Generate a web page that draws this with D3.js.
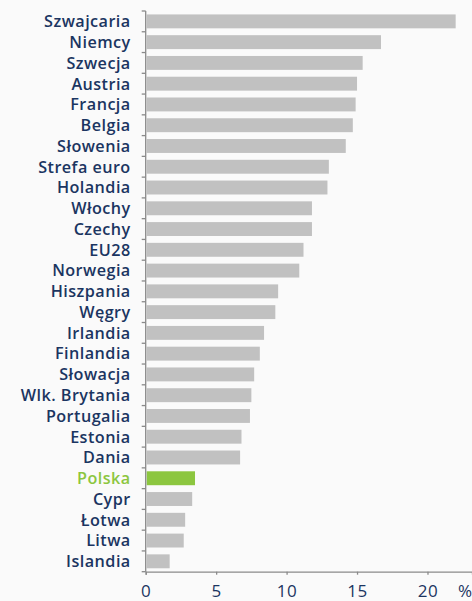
<!DOCTYPE html>
<html>
<head>
<meta charset="utf-8">
<script src="https://cdn.jsdelivr.net/npm/d3@7"></script>
<style>
  html, body { margin: 0; padding: 0; background: #fafafa; }
  svg { display: block; }
</style>
</head>
<body>
<svg id="chart" width="472" height="601"></svg>
<script>
// Countries, top to bottom
const countries = [
  "Szwajcaria", "Niemcy", "Szwecja", "Austria", "Francja", "Belgia", "Słowenia",
  "Strefa euro", "Holandia", "Włochy", "Czechy", "EU28", "Norwegia", "Hiszpania",
  "Węgry", "Irlandia", "Finlandia", "Słowacja", "Wlk. Brytania", "Portugalia",
  "Estonia", "Dania", "Polska", "Cypr", "Łotwa", "Litwa", "Islandia"
];
// Values in %
const values = [
  22.0, 16.7, 15.4, 15.0, 14.9, 14.7, 14.2,
  13.0, 12.9, 11.8, 11.8, 11.2, 10.9, 9.4,
  9.2, 8.4, 8.1, 7.7, 7.5, 7.4,
  6.8, 6.7, 3.5, 3.3, 2.8, 2.7, 1.7
];
const xTicks = [0, 5, 10, 15, 20];
const highlight = "Polska";

const data = countries.map((c, i) => ({ country: c, value: values[i] }));

const svg = d3.select("#chart");
const plotLeft = 145.7, plotRight = 472, plotTop = 11, plotBottom = 571.7;

const x = d3.scaleLinear().domain([0, 23.16]).range([plotLeft, plotRight]);
const y = d3.scaleBand().domain(countries).range([plotTop, plotBottom]).paddingInner(0.33).paddingOuter(0.165);

const navy = "#1b3561";
const green = "#8cc63f";
const axisColor = "#8a8a8a";

// Bars
svg.append("g").selectAll("rect").data(data).join("rect")
  .attr("x", x(0) + 1)
  .attr("y", d => y(d.country))
  .attr("width", d => x(d.value) - x(0) - 1)
  .attr("height", y.bandwidth())
  .attr("fill", d => d.country === highlight ? green : "#c1c1c1");

// Y axis: line and ticks between categories
const yAxis = svg.append("g");
yAxis.append("line")
  .attr("x1", plotLeft).attr("x2", plotLeft)
  .attr("y1", plotTop).attr("y2", plotBottom)
  .attr("stroke", axisColor).attr("stroke-width", 1.3);
const boundaries = d3.range(countries.length + 1).map(i => plotTop + i * (plotBottom - plotTop) / countries.length);
yAxis.selectAll("line.tick").data(boundaries).join("line")
  .attr("class", "tick")
  .attr("x1", plotLeft - 4).attr("x2", plotLeft)
  .attr("y1", d => d).attr("y2", d => d)
  .attr("stroke", axisColor).attr("stroke-width", 1.3);

// Category labels
svg.append("g").selectAll("text").data(data).join("text")
  .attr("x", plotLeft - 15)
  .attr("y", d => y(d.country) + y.bandwidth() / 2)
  .attr("dy", "0.36em")
  .attr("text-anchor", "end")
  .attr("font-family", "'Open Sans', sans-serif")
  .attr("font-size", 16.2)
  .attr("font-weight", 600)
  .attr("letter-spacing", 0.45)
  .attr("fill", d => d.country === highlight ? green : navy)
  .text(d => d.country);

// X axis
const xAxis = svg.append("g").attr("transform", `translate(0,${plotBottom})`)
  .call(d3.axisBottom(x).tickValues(xTicks).tickSize(3).tickPadding(10).tickFormat(d3.format("d")));
xAxis.select(".domain").attr("stroke", axisColor).attr("stroke-width", 1.3);
xAxis.selectAll(".tick line").attr("stroke", axisColor).attr("stroke-width", 1.3);
xAxis.selectAll(".tick text")
  .attr("font-family", "'Open Sans', sans-serif")
  .attr("font-size", 17)
  .attr("letter-spacing", 0.6)
  .attr("fill", navy);

// Unit label
svg.append("text")
  .attr("x", 465).attr("y", plotBottom + 13)
  .attr("dy", "0.71em")
  .attr("text-anchor", "middle")
  .attr("font-family", "'Open Sans', sans-serif")
  .attr("font-size", 17)
  .attr("fill", navy)
  .text("%");
</script>
</body>
</html>
